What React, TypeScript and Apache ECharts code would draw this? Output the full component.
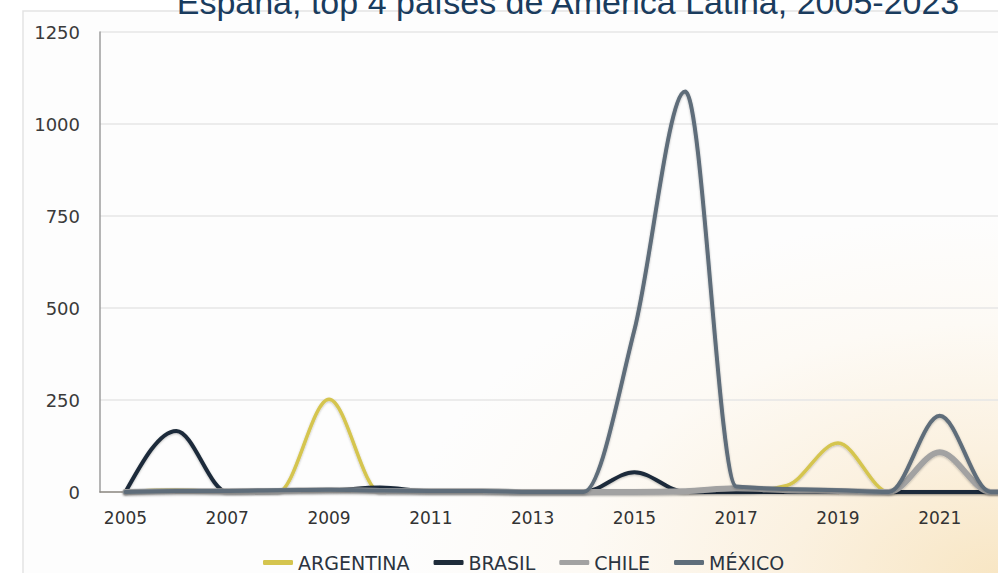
import React, { useEffect, useRef } from "react";
import * as echarts from "echarts";

// Years on the category axis
const years = [
  "2005", "2006", "2007", "2008", "2009", "2010", "2011", "2012", "2013", "2014",
  "2015", "2016", "2017", "2018", "2019", "2020", "2021", "2022", "2023",
];

// Series values per year
const argentina = [0, 6, 0, 0, 252, 0, 0, 0, 0, 0, 0, 0, 0, 18, 133, 0, 0, 0, 0];
const brasil = [0, 166, 0, 3, 4, 12, 2, 2, 0, 0, 54, 0, 0, 0, 0, 0, 0, 0, 0];
const chile = [0, 2, 2, 3, 5, 3, 2, 2, 0, 0, 0, 2, 10, 5, 3, 0, 108, 0, 0];
const mexico = [0, 3, 3, 5, 6, 4, 3, 3, 0, 0, 440, 1088, 15, 8, 5, 0, 207, 0, 0];

const seriesNames = ["ARGENTINA", "BRASIL", "CHILE", "MÉXICO"];
const seriesData = [argentina, brasil, chile, mexico];
const seriesColors = ["#d5c54f", "#1e2c3a", "#a2a2a2", "#5e6d7a"];
const seriesWidths = [3.5, 4, 6, 4];

const yTicks = { min: 0, max: 1250, interval: 250 };

const TITLE = "España, top 4 países de América Latina, 2005-2023";
const FONT = '"DejaVu Sans", sans-serif';

// Monotone cubic (Fritsch–Carlson style) path through pixel points
function monotonePath(p: number[][]): string {
  const n = p.length;
  if (n < 2) return "";
  const h: number[] = [];
  const s: number[] = [];
  for (let i = 0; i < n - 1; i++) {
    h[i] = p[i + 1][0] - p[i][0];
    s[i] = h[i] ? (p[i + 1][1] - p[i][1]) / h[i] : 0;
  }
  const m: number[] = new Array(n).fill(0);
  for (let i = 1; i < n - 1; i++) {
    const h0 = h[i - 1];
    const h1 = h[i];
    const s0 = s[i - 1];
    const s1 = s[i];
    const pp = (s0 * h1 + s1 * h0) / (h0 + h1);
    m[i] =
      (Math.sign(s0) + Math.sign(s1)) *
        Math.min(Math.abs(s0), Math.abs(s1), 0.5 * Math.abs(pp)) || 0;
  }
  m[0] = n > 2 ? (3 * s[0] - m[1]) / 2 : s[0];
  m[n - 1] = n > 2 ? (3 * s[n - 2] - m[n - 2]) / 2 : s[0];
  let d = `M${p[0][0]},${p[0][1]}`;
  for (let i = 0; i < n - 1; i++) {
    const dx = h[i] / 3;
    const c1x = p[i][0] + dx;
    const c1y = p[i][1] + dx * m[i];
    const c2x = p[i + 1][0] - dx;
    const c2y = p[i + 1][1] - dx * m[i + 1];
    d += `C${c1x},${c1y},${c2x},${c2y},${p[i + 1][0]},${p[i + 1][1]}`;
  }
  return d;
}

export default function App() {
  const ref = useRef<HTMLDivElement>(null);

  useEffect(() => {
    if (!ref.current) return;
    const chart = echarts.init(ref.current, null, { renderer: "svg" });

    const option: any = {
      animation: false,
      backgroundColor: "#ffffff",
      graphic: [
        {
          type: "rect",
          z: -10,
          silent: true,
          shape: { x: 23, y: 11, width: 1000, height: 600 },
          style: {
            fill: {
              type: "radial",
              x: 0.975,
              y: 0.94,
              r: 0.6,
              colorStops: [
                { offset: 0, color: "#f8e6c4" },
                { offset: 0.35, color: "#fbf1e0" },
                { offset: 0.7, color: "#fdfaf5" },
                { offset: 1, color: "#fdfdfd" },
              ],
            },
            stroke: "#e3e3e3",
            lineWidth: 1.5,
          },
        },
        {
          type: "text",
          z: 100,
          x: 568,
          y: 2,
          style: {
            text: TITLE,
            font: '34px "Liberation Sans", Arial, sans-serif',
            fill: "#1a3c5e",
            align: "center",
            verticalAlign: "middle",
          },
        },
      ],
      legend: {
        data: seriesNames,
        left: 258,
        top: 548,
        icon: "roundRect",
        itemWidth: 30,
        itemHeight: 5,
        itemGap: 24,
        textStyle: { fontFamily: FONT, fontSize: 19, color: "#2b3440" },
      },
      grid: {
        left: 100,
        top: 32,
        width: 967,
        height: 460,
        outerBoundsMode: "none",
        containLabel: false,
      },
      xAxis: {
        type: "category",
        data: years,
        boundaryGap: true,
        axisLine: { lineStyle: { color: "#8f8a84", width: 1.5 } },
        axisTick: { show: false },
        axisLabel: {
          interval: (idx: number) => idx % 2 === 0 && idx < years.length - 1,
          margin: 17,
          fontFamily: FONT,
          fontSize: 17,
          color: "#333333",
        },
        splitLine: { show: false },
      },
      yAxis: {
        type: "value",
        min: yTicks.min,
        max: yTicks.max,
        interval: yTicks.interval,
        axisLine: { show: true, lineStyle: { color: "#9c9c9c", width: 1.5 } },
        axisTick: { show: false },
        axisLabel: {
          margin: 20,
          fontFamily: FONT,
          fontSize: 18,
          color: "#3a3a3a",
          formatter: (v: number) => String(v),
        },
        splitLine: { lineStyle: { color: "#e6e6e6", width: 1.5 } },
      },
      series: seriesNames.map((name, i) => ({
        name,
        type: "custom",
        data: seriesData[i].map((v, idx) => [idx, v]),
        encode: { x: 0, y: 1 },
        itemStyle: { color: seriesColors[i] },
        z: 2 + i,
        renderItem: (params: any, api: any) => {
          if (params.dataIndex !== 0) return null;
          const pts = seriesData[i].map((v, idx) => api.coord([idx, v]));
          return {
            type: "path",
            shape: { pathData: monotonePath(pts) },
            style: {
              fill: "none",
              stroke: seriesColors[i],
              lineWidth: seriesWidths[i],
              lineJoin: "round",
              lineCap: "round",
              shadowColor: "rgba(0,0,0,0.25)",
              shadowBlur: 2,
              shadowOffsetY: 1,
            },
          };
        },
      })),
    };

    chart.setOption(option);
    return () => chart.dispose();
  }, []);

  return (
    <div
      ref={ref}
      style={{ position: "fixed", left: 0, top: 0, width: 998, height: 573 }}
    />
  );
}
